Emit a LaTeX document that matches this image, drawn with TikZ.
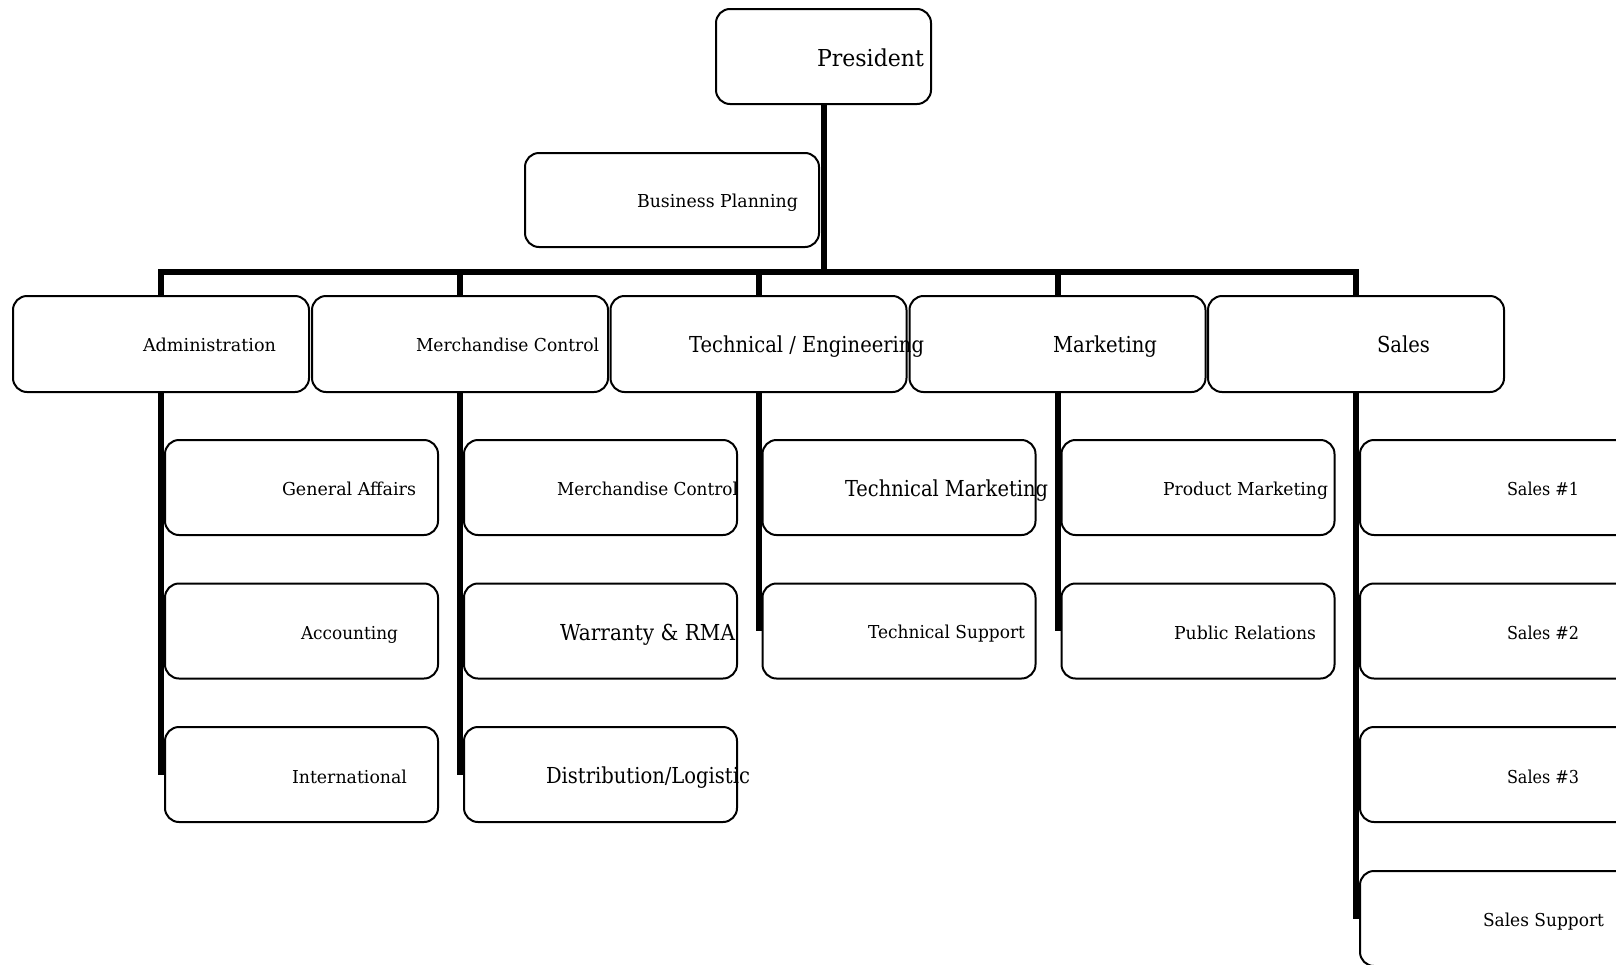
\documentclass[tikz,border=0pt]{standalone}
\usepackage{fontspec}
\setmainfont{DejaVu Serif}
\usepackage{graphicx}
\usetikzlibrary{backgrounds}
\newcommand\fitx[3]{\resizebox{#1pt}{\height}{\fontsize{#2pt}{#2pt}\selectfont #3}}
\begin{document}
\begin{tikzpicture}[x=1pt,y=-1pt,
  bx/.style={draw, fill=white, line width=2pt, rounded corners=14pt, inner sep=0pt},
  topbox/.style={bx, minimum width=215pt, minimum height=95pt},
  asbox/.style={bx, minimum width=294pt, minimum height=94pt},
  lbox/.style={bx, minimum width=296pt, minimum height=96pt},
  sbox/.style={bx, minimum width=273pt, minimum height=95pt},
  txt/.style={anchor=base west, inner sep=0pt, outer sep=0pt},
  conn/.style={line width=6pt, line join=miter, line cap=butt}]
\useasboundingbox (0,0) rectangle (1616,964);
\clip (0,0) rectangle (1616,964);
\coordinate (bar) at (0,272);
% boxes
\node[topbox] (pres) at (823.5,56.5) {};
\node[asbox] (bp) at (672,200) {};
\node[lbox] (adm) at (161,344) {};
\node[lbox] (mc) at (460,344) {};
\node[lbox] (te) at (758.5,344) {};
\node[lbox] (mk) at (1057.5,344) {};
\node[lbox] (sa) at (1356,344) {};
\node[sbox] (ga) at (301.5,487.5) {};
\node[sbox] (acc) at (301.5,631) {};
\node[sbox] (intl) at (301.5,774.5) {};
\node[sbox] (mcc) at (600.5,487.5) {};
\node[sbox] (war) at (600.5,631) {};
\node[sbox] (dist) at (600.5,774.5) {};
\node[sbox] (tm) at (899,487.5) {};
\node[sbox] (ts) at (899,631) {};
\node[sbox] (pm) at (1198,487.5) {};
\node[sbox] (pr) at (1198,631) {};
\node[sbox] (s1) at (1496.5,487.5) {};
\node[sbox] (s2) at (1496.5,631) {};
\node[sbox] (s3) at (1496.5,774.5) {};
\node[sbox] (ss) at (1496.5,918.5) {};
% texts
\node[txt] (tpres) at (817,66) {\fitx{107}{23.3}{President}};
\node[txt] (tbp) at (637,207) {\fitx{161}{17.8}{Business Planning}};
\node[txt] (tadm) at (143,351) {\fitx{133}{17.8}{Administration}};
\node[txt] (tmc) at (416,351) {\fitx{183}{17.8}{Merchandise Control}};
\node[txt] (tte) at (689,352) {\fitx{235}{22}{Technical / Engineering}};
\node[txt] (tmk) at (1053,352) {\fitx{104}{22}{Marketing}};
\node[txt] (tsa) at (1377,352) {\fitx{53}{22}{Sales}};
\node[txt] (tga) at (282,495) {\fitx{134}{17.8}{General Affairs}};
\node[txt] (tacc) at (301,639) {\fitx{97}{17.8}{Accounting}};
\node[txt] (tintl) at (292,783) {\fitx{115}{17.8}{International}};
\node[txt] (tmcc) at (557,495) {\fitx{181}{17.8}{Merchandise Control}};
\node[txt] (twar) at (560,640) {\fitx{175}{22}{Warranty \& RMA}};
\node[txt] (tdist) at (546,783) {\fitx{204}{22}{Distribution/Logistic}};
\node[txt] (ttm) at (845,496) {\fitx{203}{22}{Technical Marketing}};
\node[txt] (tts) at (868,638) {\fitx{157}{17.8}{Technical Support}};
\node[txt] (tpm) at (1163,495) {\fitx{165}{17.8}{Product Marketing}};
\node[txt] (tpr) at (1174,639) {\fitx{142}{17.8}{Public Relations}};
\node[txt] (ts1) at (1507,495) {\fitx{72}{17.8}{Sales \#1}};
\node[txt] (ts2) at (1507,639) {\fitx{72}{17.8}{Sales \#2}};
\node[txt] (ts3) at (1507,783) {\fitx{72}{17.8}{Sales \#3}};
\node[txt] (tss) at (1483,926) {\fitx{121}{17.8}{Sales Support}};
% connectors
\begin{pgfonlayer}{background}
\draw[conn] (pres.south) -- (pres.south |- bar);
\draw[conn] (adm.center |- intl.center) -- (adm.center |- bar) -- (sa.center |- bar) -- (sa.center |- ss.center);
\draw[conn] (mc.center |- bar) -- (mc.center |- dist.center);
\draw[conn] (te.center |- bar) -- (te.center |- ts.center);
\draw[conn] (mk.center |- bar) -- (mk.center |- pr.center);
\end{pgfonlayer}
\end{tikzpicture}
\end{document}
